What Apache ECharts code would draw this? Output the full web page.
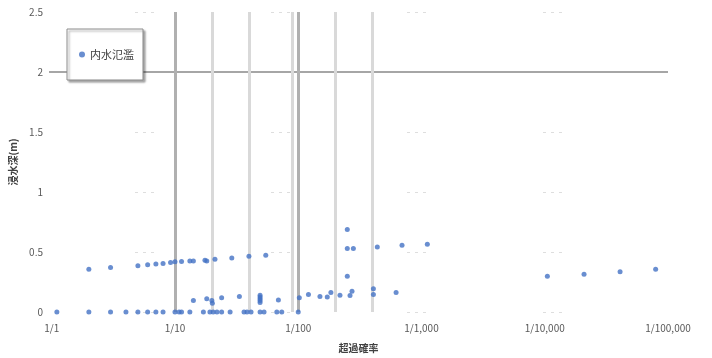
<!DOCTYPE html>
<html>
<head>
<meta charset="utf-8">
<script src="https://cdn.jsdelivr.net/npm/echarts@6/dist/echarts.min.js"></script>
<style>
  html, body { margin: 0; padding: 0; background: #fff; }
  #chart { width: 712px; height: 358px; }
</style>
</head>
<body>
<div id="chart"></div>
<script>
// 系列名称
const seriesName = '内水氾濫';

// x轴刻度 (对数)
const xTicks = [1, 10, 100, 1000, 10000, 100000];
const xTickLabels = ['1/1', '1/10', '1/100', '1/1,000', '1/10,000', '1/100,000'];

// 浸水深为0的点
const zeroX = [1.1, 2, 3, 4, 5, 6, 7, 8, 10, 10.8, 11.3, 13.2, 17, 19.2, 20.4, 21.9, 23.9, 28, 36.3, 38.4, 41.4, 49, 52.8, 67, 73.5, 100];

// 上面一排
const upperX = [2, 3, 5, 6, 7, 8, 9.2, 10, 11.3, 13.2, 14.1, 17.5, 18.1, 21.1, 28.9, 39.8, 54.5];
const upperY = [0.357, 0.37, 0.385, 0.393, 0.40, 0.404, 0.412, 0.418, 0.42, 0.426, 0.426, 0.431, 0.426, 0.439, 0.45, 0.464, 0.472];

// 下面一堆
const lowerX = [14.1, 18.1, 19.9, 20.1, 23.9, 33.3, 49, 49, 49, 49, 49, 69, 102, 121, 150, 172, 184, 218, 263, 273, 407, 407, 622];
const lowerY = [0.096, 0.11, 0.096, 0.072, 0.118, 0.129, 0.08, 0.095, 0.11, 0.125, 0.14, 0.101, 0.118, 0.146, 0.129, 0.124, 0.162, 0.14, 0.138, 0.173, 0.194, 0.146, 0.162];

// 右边的点
const rightX = [250, 250, 280, 250, 438, 695, 1115, 10500, 20840, 40840, 79400];
const rightY = [0.688, 0.53, 0.53, 0.297, 0.541, 0.556, 0.564, 0.297, 0.315, 0.335, 0.357];

// 参考线
const thresholdDepth = 2;
const majorLines = [10, 100];
const minorLines = [20, 40, 90, 200, 400];

function zip(xs, ys) {
    return xs.map((x, i) => [x, ys[i]]);
}

let points = [];
points = points.concat(zeroX.map(x => [x, 0]));
points = points.concat(zip(upperX, upperY));
points = points.concat(zip(lowerX, lowerY));
points = points.concat(zip(rightX, rightY));

const font = "'Noto Sans CJK JP', 'Noto Sans', sans-serif";

const chartDom = document.getElementById('chart');
const myChart = echarts.init(chartDom);
let option;
option = {
    animation: false,
    textStyle: { fontFamily: font },
    grid: {
        left: 49,
        right: 44,
        top: 12,
        bottom: 43
    },
    legend: {
        data: [seriesName],
        left: 67,
        top: 29,
        orient: 'vertical',
        icon: 'circle',
        itemWidth: 6,
        itemHeight: 6,
        itemGap: 5,
        padding: [20, 9, 20, 12],
        backgroundColor: '#fff',
        borderColor: '#8c8c8c',
        borderWidth: 1,
        shadowColor: 'rgba(0,0,0,0.35)',
        shadowBlur: 2,
        shadowOffsetX: 2,
        shadowOffsetY: 2,
        textStyle: { fontSize: 11, color: '#404040', fontFamily: font }
    },
    xAxis: {
        type: 'log',
        logBase: 10,
        min: 0.95,
        max: 100000,
        name: '超過確率',
        nameLocation: 'middle',
        nameGap: 31,
        nameTextStyle: { fontSize: 10, fontWeight: 'bold', color: '#404040' },
        axisLine: { show: false },
        axisTick: { show: false },
        splitLine: { show: false },
        axisLabel: {
            showMinLabel: false,
            fontSize: 10,
            color: '#595959',
            margin: 11,
            formatter: function (v) {
                const i = xTicks.findIndex(t => Math.abs(t - v) / t < 1e-6);
                return i >= 0 ? xTickLabels[i] : '';
            }
        }
    },
    yAxis: {
        type: 'value',
        min: 0,
        max: 2.5,
        interval: 0.5,
        name: '浸水深(m)',
        nameLocation: 'middle',
        nameGap: 26,
        nameTextStyle: { fontSize: 10, fontWeight: 'bold', color: '#404040' },
        axisLine: { show: false },
        axisTick: { show: false },
        axisLabel: { fontSize: 10, color: '#595959', margin: 6 },
        splitLine: {
            lineStyle: { color: '#dedede', width: 1, type: [3, 5, 3, 5, 3, 117], dashOffset: 50 }
        }
    },
    series: [
        {
            name: seriesName,
            type: 'scatter',
            symbol: 'circle',
            symbolSize: 5,
            z: 3,
            itemStyle: { color: '#4472C4' },
            data: points,
            markLine: {
                silent: true,
                z: 1,
                symbol: 'none',
                label: { show: false },
                emphasis: { disabled: true },
                data: [
                    { yAxis: thresholdDepth, lineStyle: { color: '#a6a6a6', width: 2, type: 'solid' } }
                ].concat(
                    majorLines.map(v => ({ xAxis: v, lineStyle: { color: '#b0b0b0', width: 3, type: 'solid' } })),
                    minorLines.map(v => ({ xAxis: v, lineStyle: { color: '#d9d9d9', width: 3, type: 'solid' } }))
                )
            }
        }
    ]
};
option && myChart.setOption(option);
</script>
</body>
</html>
